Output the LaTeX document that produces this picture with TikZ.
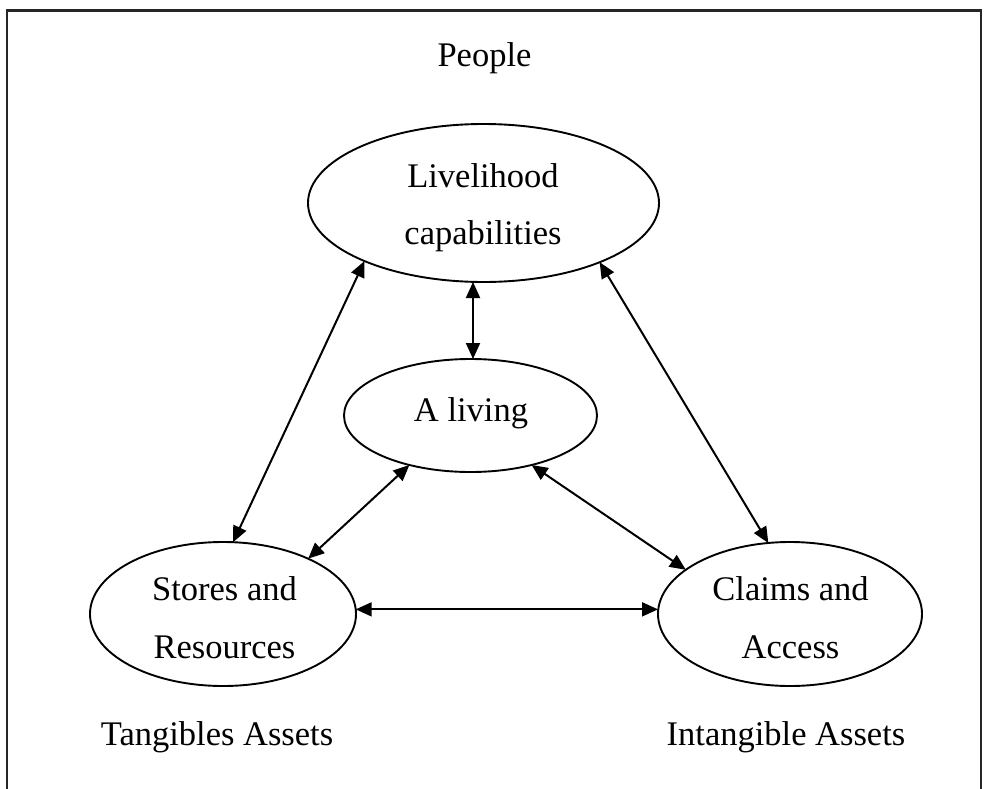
\documentclass[tikz,border=0pt]{standalone}
\usepackage{fontspec}
\setmainfont{Liberation Serif}
\usetikzlibrary{shapes.geometric,arrows.meta}
\begin{document}
\begin{tikzpicture}[x=1pt,y=-1pt,
  oval/.style={draw,line width=1.9pt,ellipse,inner sep=0pt,outer sep=0pt},
  lbl/.style={anchor=base,inner sep=0pt,font=\fontsize{34.5}{41}\selectfont},
  link/.style={line width=2pt,{Triangle[length=16pt,width=14pt]}-{Triangle[length=16pt,width=14pt]}},
  frameline/.style={line width=2.2pt,draw=black!85}]
\useasboundingbox (0,0) rectangle (990,789);
% open frame around the figure
\draw[frameline] (7,789) -- (7,10.5) -- (981,10.5) -- (981,789);

% the four ovals
\node[oval,minimum width=351pt,minimum height=158pt] (liv) at (483.5,203) {};
\node[oval,minimum width=253pt,minimum height=113pt] (aliv) at (470.5,415.5) {};
\node[oval,minimum width=266pt,minimum height=144pt] (sto) at (223,614) {};
\node[oval,minimum width=264pt,minimum height=144pt] (cla) at (790,614) {};

% texts
\node[lbl] (people) at (484.5,67) {People};
\node[lbl] (livA) at (483,187) {Livelihood};
\node[lbl] (livB) at (483,244) {capabilities};
\node[lbl] (alivT) at (471,421) {A living};
\node[lbl] (stoA) at (224.5,600) {Stores and};
\node[lbl] (stoB) at (224.5,658) {Resources};
\node[lbl] (claA) at (790.5,600) {Claims and};
\node[lbl] (claB) at (790.5,658) {Access};
\node[lbl] (tang) at (217,745) {Tangibles Assets};
\node[lbl] (intang) at (786,745) {Intangible Assets};

% two-way links
\coordinate (mid) at ([xshift=2.5pt]aliv.north);
\draw[link] (liv.-154.6) -- (sto.82.1);
\draw[link] (liv.south -| mid) -- (mid);
\draw[link] (liv.-27.5) -- (cla.107.7);
\draw[link] (aliv.-141.9) -- (sto.33.5);
\draw[link] (aliv.-39.6) -- (cla.157.1);
\draw[link] (sto.2.6) -- (sto.2.6 -| cla.west);
\end{tikzpicture}
\end{document}
